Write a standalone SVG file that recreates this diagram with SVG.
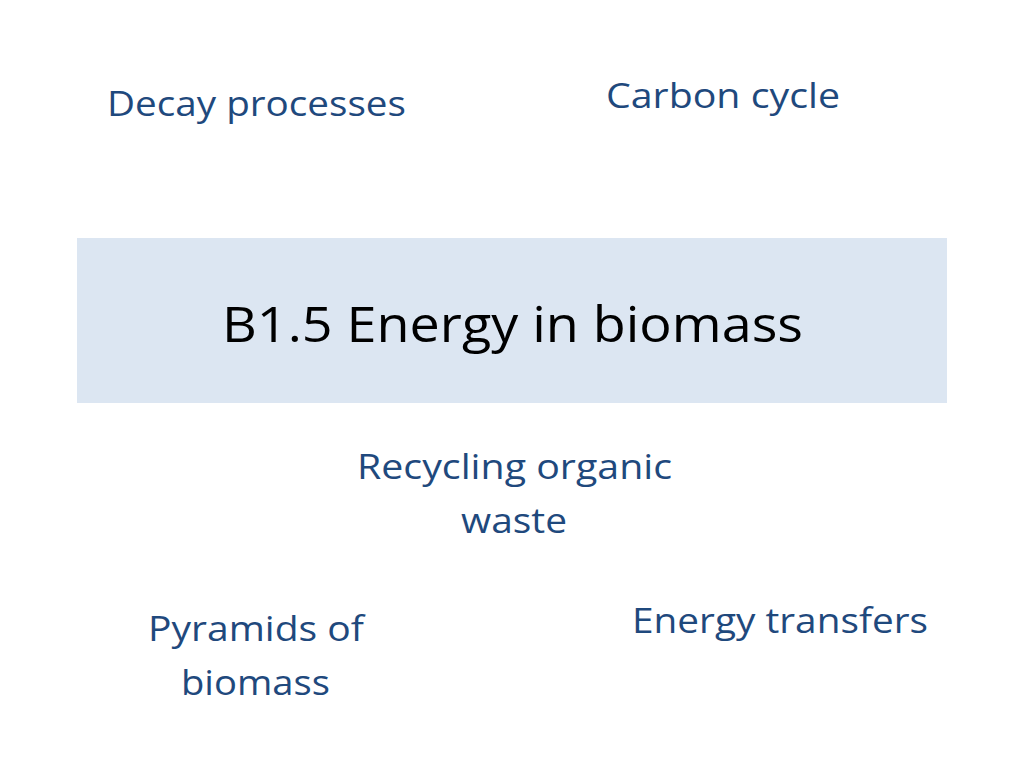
<svg xmlns="http://www.w3.org/2000/svg" width="1024" height="768" viewBox="0 0 1024 768">
<style>
.t{font-family:"Open Sans","Liberation Sans",sans-serif;fill:#1F497D;font-size:34px}
.h{font-family:"Open Sans","Liberation Sans",sans-serif;fill:#000;font-size:50px}
</style>
<rect width="1024" height="768" fill="#fff"/>
<g id="title"><rect x="77" y="238" width="870" height="165" fill="#DCE6F2"/>
<text class="h" x="222" y="342" textLength="581" lengthAdjust="spacingAndGlyphs">B1.5 Energy in biomass</text></g>
<g id="decay"><text class="t" x="107" y="116" textLength="299" lengthAdjust="spacingAndGlyphs">Decay processes</text></g>
<g id="carbon"><text class="t" x="606" y="108" textLength="234" lengthAdjust="spacingAndGlyphs">Carbon cycle</text></g>
<g id="recycling"><text class="t" x="357" y="479" textLength="315" lengthAdjust="spacingAndGlyphs">Recycling organic</text>
<text class="t" x="461" y="533" textLength="106" lengthAdjust="spacingAndGlyphs">waste</text></g>
<g id="pyramids"><text class="t" x="148" y="641" textLength="216" lengthAdjust="spacingAndGlyphs">Pyramids of</text>
<text class="t" x="181" y="695" textLength="149" lengthAdjust="spacingAndGlyphs">biomass</text></g>
<g id="energy"><text class="t" x="632" y="633" textLength="296" lengthAdjust="spacingAndGlyphs">Energy transfers</text></g>
<g id="connectors"/>
</svg>
